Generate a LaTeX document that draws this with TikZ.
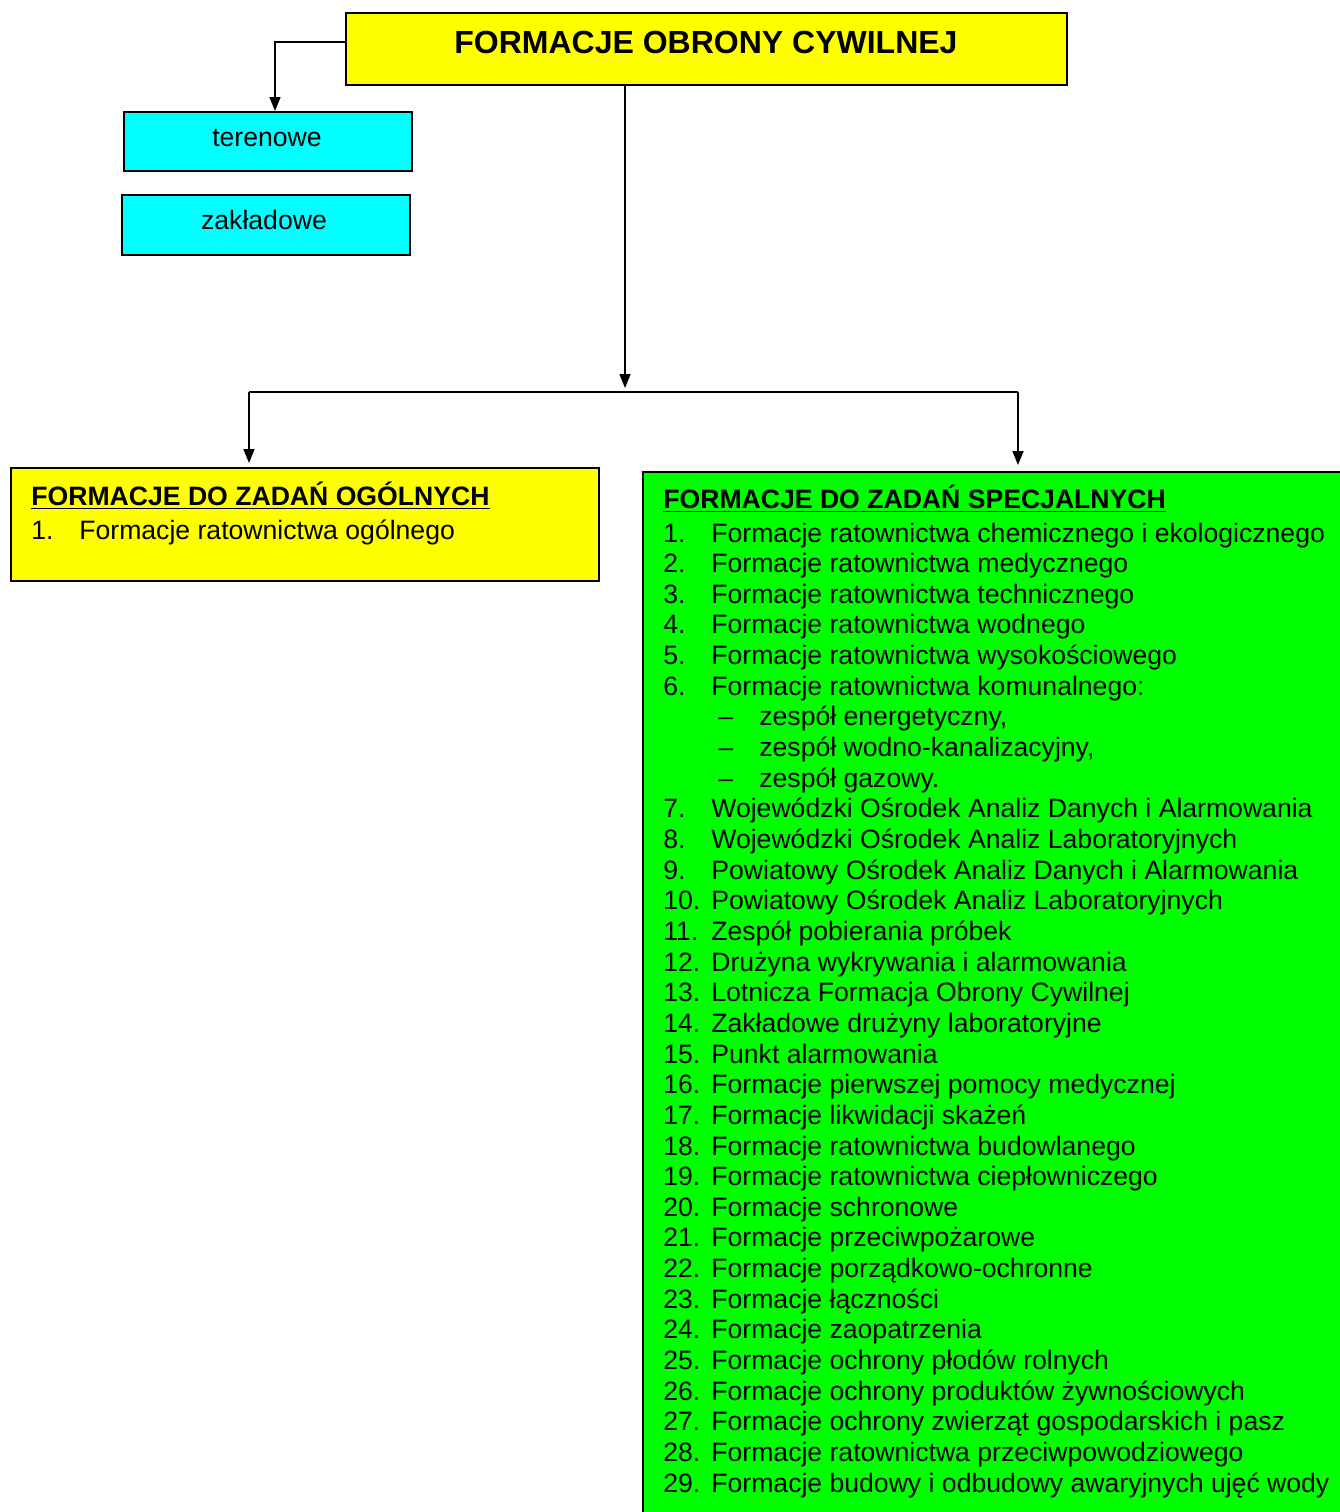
\documentclass[tikz,border=0pt]{standalone}
\usepackage{fontspec}
\setmainfont{Liberation Sans}
\usetikzlibrary{arrows.meta}
\definecolor{boxyellow}{HTML}{FFFF00}
\definecolor{boxcyan}{HTML}{00FFFF}
\definecolor{boxgreen}{HTML}{00FF00}
\newcommand\listrow[3]{%
  \node[txt] (n#1) at (663,{542+30.65*#1}) {#2};
  \node[txt] (t#1) at (711,{542+30.65*#1}) {#3};}
\newcommand\subrow[2]{%
  \node[txt] (d#1) at (718,{542+30.65*#1}) {–};
  \node[txt] (s#1) at (759,{542+30.65*#1}) {#2};}
\begin{document}
\begin{tikzpicture}[x=0.5pt,y=-0.5pt,
  boxframe/.style={draw=black,line width=1pt,inner sep=0pt,anchor=north west},
  txt/.style={anchor=base west,inner sep=0pt,font=\fontsize{13.3}{15.3}\selectfont},
  ctxt/.style={anchor=base,inner sep=0pt,font=\fontsize{13.3}{15.3}\selectfont},
  conn/.style={line width=0.75pt},
  arr/.style={line width=0.75pt,-{Triangle[length=7pt,width=5.5pt]}}]
\useasboundingbox (0,0) rectangle (1340,1512);
% boxes
\node[boxframe,fill=boxyellow,minimum width=360.5pt,minimum height=36pt] (title) at (345,12) {};
\node[anchor=base,inner sep=0pt,font=\fontsize{16}{19}\selectfont\bfseries] (titletext) at (706,53) {FORMACJE OBRONY CYWILNEJ};
\node[boxframe,fill=boxcyan,minimum width=144pt,minimum height=29.5pt] (teren) at (123,111) {};
\node[ctxt] (terentext) at (267,146) {terenowe};
\node[boxframe,fill=boxcyan,minimum width=144pt,minimum height=30pt] (zakl) at (121,194) {};
\node[ctxt] (zakltext) at (264,229) {zakładowe};
\node[boxframe,fill=boxyellow,minimum width=294pt,minimum height=56.5pt] (gen) at (10,467) {};
\node[boxframe,fill=boxgreen,minimum width=355pt,minimum height=530pt] (spec) at (642,471) {};
% connectors
\coordinate (jn) at (625,392);
\coordinate (jl) at (249,392);
\coordinate (jr) at (1018,392);
\draw[arr] ([yshift=3.5pt]title.west) -| ([xshift=3.5pt]teren.north);
\draw[arr] (title.south -| jn) -- ([yshift=2pt]jn);
\draw[conn] (jl) -- (jr);
\draw[arr] (jl) -- ([yshift=2pt]gen.north -| jl);
\draw[arr] (jr) -- ([yshift=3pt]spec.north -| jr);
% general box text
\node[txt,font=\fontsize{13.3}{15.3}\selectfont\bfseries] (genhead) at (31,505) {\underline{FORMACJE DO ZADAŃ OGÓLNYCH}};
\node[txt] (gen1n) at (31,539) {1.};
\node[txt] (gen1t) at (79,539) {Formacje ratownictwa ogólnego};
% special box text
\node[txt,font=\fontsize{13.3}{15.3}\selectfont\bfseries] (spechead) at (663,508) {\underline{FORMACJE DO ZADAŃ SPECJALNYCH}};
\listrow{0}{1.}{Formacje ratownictwa chemicznego i ekologicznego}
\listrow{1}{2.}{Formacje ratownictwa medycznego}
\listrow{2}{3.}{Formacje ratownictwa technicznego}
\listrow{3}{4.}{Formacje ratownictwa wodnego}
\listrow{4}{5.}{Formacje ratownictwa wysokościowego}
\listrow{5}{6.}{Formacje ratownictwa komunalnego:}
\subrow{6}{zespół energetyczny,}
\subrow{7}{zespół wodno-kanalizacyjny,}
\subrow{8}{zespół gazowy.}
\listrow{9}{7.}{Wojewódzki Ośrodek Analiz Danych i Alarmowania}
\listrow{10}{8.}{Wojewódzki Ośrodek Analiz Laboratoryjnych}
\listrow{11}{9.}{Powiatowy Ośrodek Analiz Danych i Alarmowania}
\listrow{12}{10.}{Powiatowy Ośrodek Analiz Laboratoryjnych}
\listrow{13}{11.}{Zespół pobierania próbek}
\listrow{14}{12.}{Drużyna wykrywania i alarmowania}
\listrow{15}{13.}{Lotnicza Formacja Obrony Cywilnej}
\listrow{16}{14.}{Zakładowe drużyny laboratoryjne}
\listrow{17}{15.}{Punkt alarmowania}
\listrow{18}{16.}{Formacje pierwszej pomocy medycznej}
\listrow{19}{17.}{Formacje likwidacji skażeń}
\listrow{20}{18.}{Formacje ratownictwa budowlanego}
\listrow{21}{19.}{Formacje ratownictwa ciepłowniczego}
\listrow{22}{20.}{Formacje schronowe}
\listrow{23}{21.}{Formacje przeciwpożarowe}
\listrow{24}{22.}{Formacje porządkowo-ochronne}
\listrow{25}{23.}{Formacje łączności}
\listrow{26}{24.}{Formacje zaopatrzenia}
\listrow{27}{25.}{Formacje ochrony płodów rolnych}
\listrow{28}{26.}{Formacje ochrony produktów żywnościowych}
\listrow{29}{27.}{Formacje ochrony zwierząt gospodarskich i pasz}
\listrow{30}{28.}{Formacje ratownictwa przeciwpowodziowego}
\listrow{31}{29.}{Formacje budowy i odbudowy awaryjnych ujęć wody}
\end{tikzpicture}
\end{document}
